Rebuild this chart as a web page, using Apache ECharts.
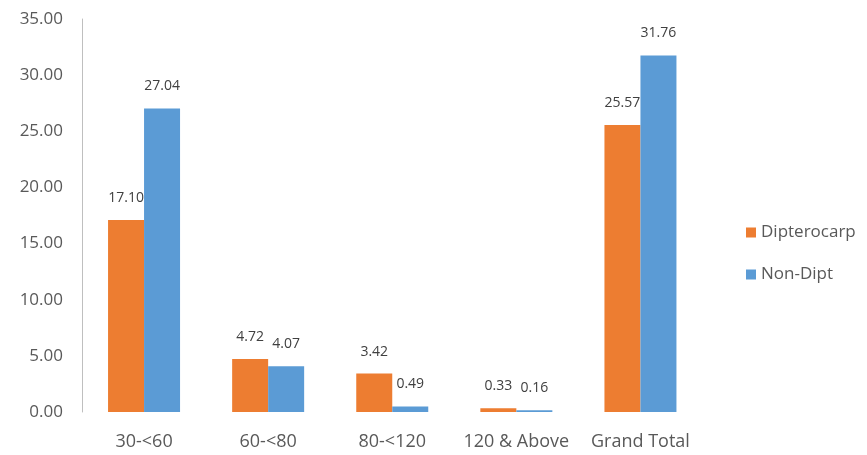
<!DOCTYPE html>
<html>
<head>
<meta charset="utf-8">
<script src="https://cdn.jsdelivr.net/npm/echarts@6/dist/echarts.min.js"></script>
<style>html,body{margin:0;padding:0;background:#fff}#c{width:867px;height:455px}</style>
</head>
<body>
<div id="c"></div>
<script>
var categories = ['30-<60', '60-<80', '80-<120', '120 & Above', 'Grand Total'];
var dipterocarp = [17.10, 4.72, 3.42, 0.33, 25.57];
var nonDipt = [27.04, 4.07, 0.49, 0.16, 31.76];
var seriesNames = ['Dipterocarp', 'Non-Dipt'];

var FONT = '"Open Sans", "Liberation Sans", sans-serif';
var chart = echarts.init(document.getElementById('c'));
var lbl = {
  show: true, position: 'top', distance: 15,
  formatter: function (p) { return p.value.toFixed(2); },
  color: '#404040', fontSize: 14, fontFamily: FONT
};
chart.setOption({
  animation: false,
  textStyle: { fontFamily: FONT },
  grid: { left: 82, top: 19, width: 620.5, bottom: 43, containLabel: false },
  legend: {
    orient: 'vertical', left: 741, top: 219,
    itemWidth: 10, itemHeight: 10, itemGap: 25,
    icon: 'rect',
    textStyle: { color: '#595959', fontSize: 17, lineHeight: 17, fontFamily: FONT },
    data: seriesNames
  },
  xAxis: {
    type: 'category', data: categories,
    axisLine: { show: false }, axisTick: { show: false },
    axisLabel: { color: '#595959', fontSize: 18, margin: 21, fontFamily: FONT, interval: 0 }
  },
  yAxis: {
    type: 'value', min: 0, max: 35, interval: 5,
    splitLine: { show: false },
    axisLine: { show: true, lineStyle: { color: '#BFBFBF', width: 1 } },
    axisTick: { show: false },
    axisLabel: { color: '#595959', fontSize: 17, margin: 19, fontFamily: FONT,
      formatter: function (v) { return v.toFixed(2); } }
  },
  series: [
    { name: seriesNames[0], type: 'bar', data: dipterocarp, barWidth: 36, barGap: '0%',
      itemStyle: { color: '#ED7D31' }, label: lbl },
    { name: seriesNames[1], type: 'bar', data: nonDipt, barWidth: 36, barGap: '0%',
      itemStyle: { color: '#5B9BD5' }, label: lbl }
  ]
});
</script>
</body>
</html>
